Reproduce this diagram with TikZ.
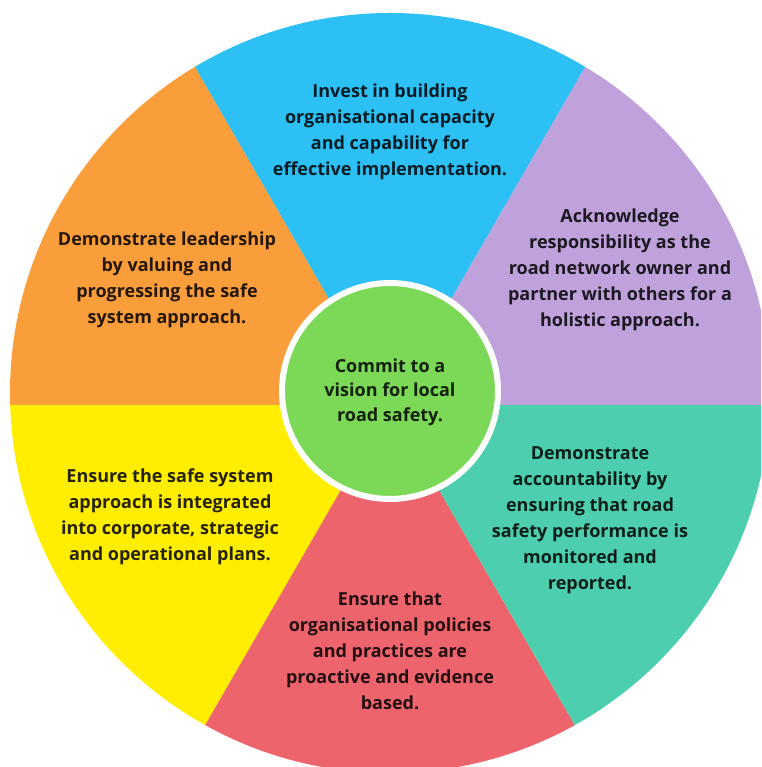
\documentclass[tikz,border=0pt]{standalone}
\usepackage{fontspec}
\setmainfont{Open Sans}
\usepackage{xcolor}
\usepackage{tikz}
\definecolor{skyblue}{HTML}{2CC0F5}
\definecolor{lilac}{HTML}{BFA1DC}
\definecolor{mint}{HTML}{4DCFAF}
\definecolor{coral}{HTML}{EE646C}
\definecolor{lemon}{HTML}{FFEE00}
\definecolor{amber}{HTML}{F99E3B}
\definecolor{lime}{HTML}{7BD957}

\begin{document}
\begin{tikzpicture}[
  x=1pt,y=1pt,
  wedge/.style={draw=none},
  txt/.style={align=center,font=\bfseries\fontsize{18}{26}\selectfont,text=black,text opacity=0.85,inner sep=0pt},
  hubcircle/.style={circle,fill=lime,draw=white,line width=6pt,minimum size=216pt,inner sep=0pt}
]
\useasboundingbox (0,0) rectangle (761,767);
\coordinate (hub) at (390,362);
\coordinate (mid) at (390,374);
% six coloured wedges cut to the outer disc
\begin{scope}
\clip (0,0) rectangle (761,767);
\clip (mid) circle (380);
\fill[wedge,skyblue] (hub) -- +(60:900) -- +(120:900) -- cycle;
\fill[wedge,amber] (hub) -- +(120:900) -- +(180:900) -- cycle;
\fill[wedge,lemon] (hub) -- +(180:900) -- +(240:900) -- cycle;
\fill[wedge,coral] (hub) -- +(240:900) -- +(300:900) -- cycle;
\fill[wedge,mint] (hub) -- +(300:900) -- +(360:900) -- cycle;
\fill[wedge,lilac] (hub) -- +(0:900) -- +(60:900) -- cycle;
\end{scope}
\node[hubcircle] (vision) at (390,376) {};
\node[txt,font=\bfseries\fontsize{18}{24.5}\selectfont] (visiontext) at (390,375) {Commit to a\\vision for local\\road safety.};
\node[txt] (invest) at (390,635) {Invest in building\\organisational capacity\\and capability for\\effective implementation.};
\node[txt] (owner) at (620,497) {Acknowledge\\responsibility as the\\road network owner and\\partner with others for a\\holistic approach.};
\node[txt] (account) at (590,247) {Demonstrate\\accountability by\\ensuring that road\\safety performance is\\monitored and\\reported.};
\node[txt] (policies) at (390,116) {Ensure that\\organisational policies\\and practices are\\proactive and evidence\\based.};
\node[txt] (plans) at (170,250) {Ensure the safe system\\approach is integrated\\into corporate, strategic\\and operational plans.};
\node[txt] (leader) at (167,487) {Demonstrate leadership\\by valuing and\\progressing the safe\\system approach.};
\end{tikzpicture}
\end{document}
